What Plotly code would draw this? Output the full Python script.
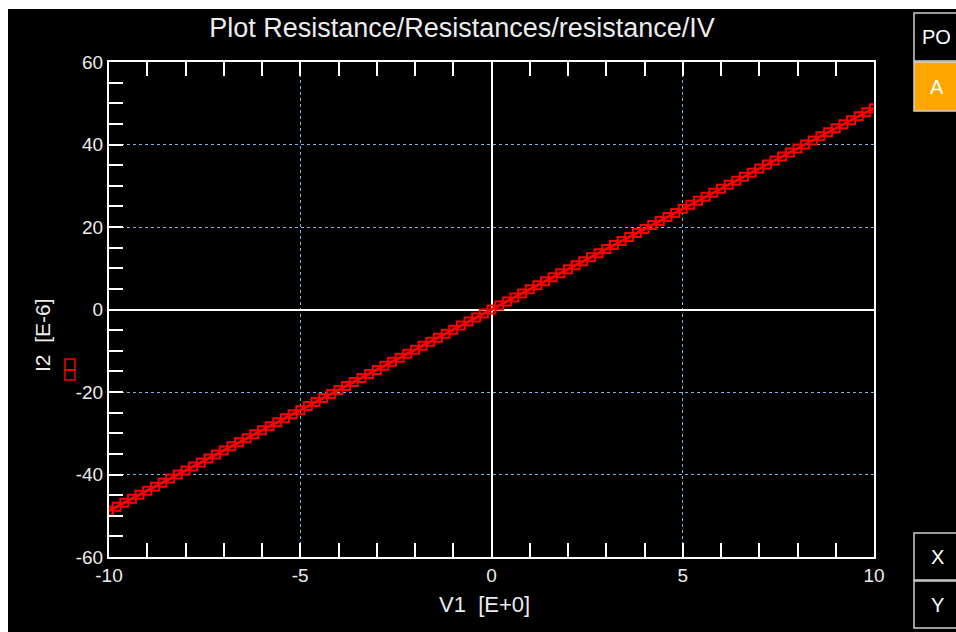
import plotly.graph_objects as go

V1 = [-10.0, -9.8, -9.6, -9.4, -9.2, -9.0, -8.8, -8.6, -8.4, -8.2,
      -8.0, -7.8, -7.6, -7.4, -7.2, -7.0, -6.8, -6.6, -6.4, -6.2,
      -6.0, -5.8, -5.6, -5.4, -5.2, -5.0, -4.8, -4.6, -4.4, -4.2,
      -4.0, -3.8, -3.6, -3.4, -3.2, -3.0, -2.8, -2.6, -2.4, -2.2,
      -2.0, -1.8, -1.6, -1.4, -1.2, -1.0, -0.8, -0.6, -0.4, -0.2,
      0.0, 0.2, 0.4, 0.6, 0.8, 1.0, 1.2, 1.4, 1.6, 1.8,
      2.0, 2.2, 2.4, 2.6, 2.8, 3.0, 3.2, 3.4, 3.6, 3.8,
      4.0, 4.2, 4.4, 4.6, 4.8, 5.0, 5.2, 5.4, 5.6, 5.8,
      6.0, 6.2, 6.4, 6.6, 6.8, 7.0, 7.2, 7.4, 7.6, 7.8,
      8.0, 8.2, 8.4, 8.6, 8.8, 9.0, 9.2, 9.4, 9.6, 9.8, 10.0]

I2 = [-48.8, -47.82, -46.85, -45.87, -44.9, -43.92, -42.94, -41.97, -40.99, -40.02,
      -39.04, -38.06, -37.09, -36.11, -35.14, -34.16, -33.18, -32.21, -31.23, -30.26,
      -29.28, -28.3, -27.33, -26.35, -25.38, -24.4, -23.42, -22.45, -21.47, -20.5,
      -19.52, -18.54, -17.57, -16.59, -15.62, -14.64, -13.66, -12.69, -11.71, -10.74,
      -9.76, -8.78, -7.81, -6.83, -5.86, -4.88, -3.9, -2.93, -1.95, -0.98,
      0.0, 0.98, 1.95, 2.93, 3.9, 4.88, 5.86, 6.83, 7.81, 8.78,
      9.76, 10.74, 11.71, 12.69, 13.66, 14.64, 15.62, 16.59, 17.57, 18.54,
      19.52, 20.5, 21.47, 22.45, 23.42, 24.4, 25.38, 26.35, 27.33, 28.3,
      29.28, 30.26, 31.23, 32.21, 33.18, 34.16, 35.14, 36.11, 37.09, 38.06,
      39.04, 40.02, 40.99, 41.97, 42.94, 43.92, 44.9, 45.87, 46.85, 47.82, 48.8]

TITLE = "Plot Resistance/Resistances/resistance/IV"
X_TITLE = "V1\u00a0\u00a0[E+0]"
Y_TITLE = "I2\u00a0\u00a0[E-6]"

W, H = 956, 632
L, R, T, B = 109, 874, 62, 557  # plot area in page pixels


def px(x):
    return (x - L) / (R - L)


def py(y):
    return (B - y) / (B - T)


FONT = "Liberation Sans, Arial, sans-serif"
TXT = "#ececec"
GRID = "#7db4e0"

fig = go.Figure()
fig.add_trace(go.Scatter(
    x=V1, y=I2, mode="lines+markers",
    line=dict(color="#ff0000", width=3),
    marker=dict(symbol="square-open", size=8, color="#ff0000",
                line=dict(color="#ff0000", width=2)),
    showlegend=False,
))

axis_common = dict(
    showline=True, linecolor="white", linewidth=2,
    ticks="inside", tickcolor="white", tickwidth=2, ticklen=14,
    tickfont=dict(family=FONT, size=19, color=TXT),
    showgrid=True, gridcolor=GRID, griddash="dot", gridwidth=1,
    zeroline=True, zerolinecolor="white", zerolinewidth=1.5,
)

fig.update_xaxes(
    range=[-10, 10], tickmode="array", tickvals=[-10, -5, 0, 5, 10],
    ticktext=["-10", "-5", "0", "5", "10"], mirror="ticks",
    minor=dict(ticks="inside", dtick=1, tick0=0, ticklen=14, tickcolor="white",
               tickwidth=2, showgrid=False),
    **axis_common,
)
fig.update_yaxes(
    range=[-60, 60], tickmode="array", tickvals=[-60, -40, -20, 0, 20, 40, 60],
    ticktext=["-60", "-40", "-20", "0", "20", "40", "60"], mirror=True,
    minor=dict(ticks="inside", dtick=5, tick0=0, ticklen=14, tickcolor="white",
               tickwidth=2, showgrid=False),
    **axis_common,
)

shapes = []
# white page border at the left and top edges
shapes.append(dict(type="rect", xref="paper", yref="paper",
                   x0=px(-5), x1=px(8), y0=py(640), y1=py(-5),
                   fillcolor="white", line=dict(width=0), layer="above"))
shapes.append(dict(type="rect", xref="paper", yref="paper",
                   x0=px(-5), x1=px(965), y0=py(9), y1=py(-5),
                   fillcolor="white", line=dict(width=0), layer="above"))

boxes = [(13, 61, "black", "PO", 920, "left"),
         (62, 111, "#ffa500", "A", 937, "center"),
         (533, 580, "black", "X", 937, "center"),
         (581, 628, "black", "Y", 937, "center")]
annotations = []
for y0, y1, fill, label, tx, anchor in boxes:
    shapes.append(dict(type="rect", xref="paper", yref="paper",
                       x0=px(914), x1=px(985), y0=py(y1), y1=py(y0),
                       fillcolor=fill, line=dict(color="#d0d0d0", width=1.5),
                       layer="above"))
    annotations.append(dict(text=label, xref="paper", yref="paper",
                            x=px(tx), y=py((y0 + y1) / 2), xanchor=anchor,
                            yanchor="middle", showarrow=False,
                            font=dict(family=FONT, size=20, color="white")))
shapes.append(dict(type="rect", xref="paper", yref="paper",
                   x0=px(65), x1=px(75), y0=py(370), y1=py(359),
                   line=dict(color="#ff0000", width=1.5)))
shapes.append(dict(type="rect", xref="paper", yref="paper",
                   x0=px(65), x1=px(75), y0=py(380), y1=py(370),
                   line=dict(color="#ff0000", width=1.5)))

annotations.append(dict(text=Y_TITLE, xref="paper", yref="paper",
                        x=px(42), y=py(335), textangle=-90, showarrow=False,
                        xanchor="center", yanchor="middle",
                        font=dict(family=FONT, size=21, color=TXT)))
annotations.append(dict(text=X_TITLE, xref="paper", yref="paper",
                        x=px(484), y=py(604), showarrow=False,
                        xanchor="center", yanchor="middle",
                        font=dict(family=FONT, size=22, color=TXT)))

fig.update_layout(
    width=W, height=H,
    margin=dict(l=L, r=W - R, t=T, b=H - B),
    paper_bgcolor="black", plot_bgcolor="black",
    title=dict(text=TITLE, xref="paper", x=px(462), xanchor="center",
               y=(H - 28) / H, yanchor="middle",
               font=dict(family=FONT, size=27, color=TXT)),
    shapes=shapes, annotations=annotations, showlegend=False,
)

fig.write_html(
    "out.html",
    config={"displayModeBar": False},
    default_width=f"{W}px",
    default_height=f"{H}px",
    post_script="document.body.style.margin='0';"
                "document.documentElement.style.overflow='hidden';"
                "document.body.style.overflow='hidden';",
)
